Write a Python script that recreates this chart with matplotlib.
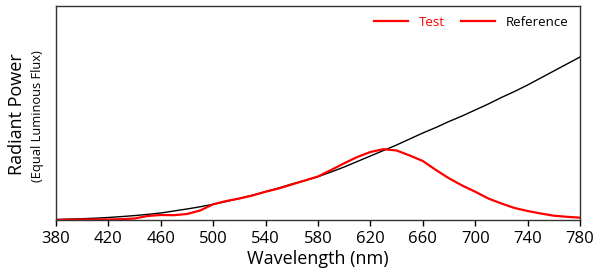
import matplotlib.pyplot as plt
from matplotlib.lines import Line2D

# wavelength grid (nm) and curves (arbitrary units)
wavelength = [380, 390, 400, 410, 420, 430, 440, 450, 460, 470,
              480, 490, 500, 510, 520, 530, 540, 550, 560, 570,
              580, 590, 600, 610, 620, 630, 640, 650, 660, 670,
              680, 690, 700, 710, 720, 730, 740, 750, 760, 770, 780]
reference = [0.5, 0.9, 1.3, 1.8, 2.5, 3.4, 4.4, 5.6, 7.0, 9.0,
             11.0, 13.2, 15.7, 18.5, 21.5, 24.8, 28.3, 32.0, 36.0, 39.5,
             43.3, 48.0, 53.0, 58.5, 64.0, 69.5, 75.0, 81.0, 87.0, 92.5,
             98.5, 104.0, 110.0, 116.0, 122.5, 128.5, 135.0, 142.0, 149.0, 156.0, 163.0]
test = [0.0, 0.3, 0.5, 0.5, 0.5, 0.8, 1.5, 4.0, 5.0, 4.8,
        6.0, 9.5, 15.7, 19.0, 21.5, 24.5, 28.3, 31.5, 35.5, 39.5,
        43.5, 50.0, 56.7, 63.0, 68.0, 70.8, 69.5, 64.5, 59.0, 50.0,
        41.7, 34.5, 28.3, 21.5, 16.5, 12.0, 9.0, 6.5, 4.3, 3.2, 2.3]
xticks = list(range(380, 781, 40))

plt.rcParams['font.family'] = ['Open Sans', 'DejaVu Sans']

fig = plt.figure(figsize=(5.95, 2.79), dpi=100)
ax = fig.add_axes([0.0941, 0.2115, 0.8807, 0.767])

ax.plot(wavelength, reference, color='black', lw=1.0)
ax.plot(wavelength, test, color='#ff0000', lw=1.6)

ax.set_xlim(380, 780)
ax.set_ylim(0, 214)
ax.set_xticks(xticks)
ax.set_yticks([])
ax.tick_params(axis='x', direction='out', length=4, width=1, labelsize=12, pad=4)
for s in ax.spines.values():
    s.set_color('#333333')
    s.set_linewidth(1.0)
ax.set_xlabel('Wavelength (nm)', fontsize=13, labelpad=2)

fig.text(0.029, 0.59, 'Radiant Power', rotation=90, fontsize=13,
         ha='center', va='center')
fig.text(0.063, 0.585, '(Equal Luminous Flux)', rotation=90, fontsize=9.3,
         ha='center', va='center')

handles = [Line2D([], [], color='#ff0000', lw=1.6),
           Line2D([], [], color='#ff0000', lw=1.6)]
leg = ax.legend(handles, ['Test', 'Reference'], ncol=2, frameon=False,
                loc='upper right', bbox_to_anchor=(1.0, 1.01), fontsize=9.5,
                handlelength=2.6, columnspacing=1.2, handletextpad=0.8)
leg.get_texts()[0].set_color('#ff0000')
leg.get_texts()[1].set_color('black')

fig.savefig('out.png', dpi=100)
